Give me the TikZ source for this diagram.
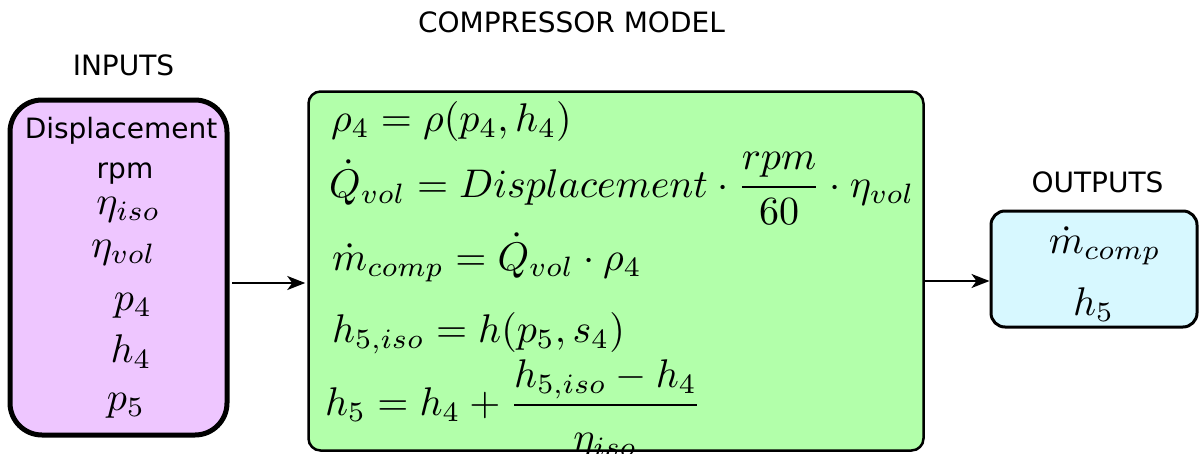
\documentclass[tikz,border=0pt]{standalone}
\usepackage{graphicx}
\usepackage{fontspec}
\setsansfont{DejaVu Sans}
\usetikzlibrary{arrows.meta}
\definecolor{inputcol}{RGB}{238,198,255}
\definecolor{modelcol}{RGB}{178,255,170}
\definecolor{outputcol}{RGB}{215,248,255}
\newcommand{\eqbox}[1]{\scalebox{4}{$#1$}}
\begin{document}
\begin{tikzpicture}[x=1pt, y=-1pt,
		box/.style={draw=black, rounded corners=#1},
		head/.style={font=\sffamily\fontsize{28}{34}\selectfont, inner sep=0pt, anchor=base},
		eq/.style={inner sep=0pt, anchor=base west},
		flow/.style={line width=2pt, -{Stealth[length=18pt,width=14pt,inset=5pt]}}]
			\useasboundingbox (0,0) rectangle (1203,453);
			\node[head] (title) at (571.5,32) {COMPRESSOR MODEL};
			\node[head] (intitle) at (123.5,75) {INPUTS};
			\node[head] (outtitle) at (1097.5,192) {OUTPUTS};
			\node[box=32pt, line width=5pt, fill=inputcol, minimum width=217pt, minimum height=335pt] (inputs) at (118.5,267.5) {};
			\node[box=12pt, line width=2.5pt, fill=modelcol, minimum width=615pt, minimum height=359pt] (model) at (616,271) {};
			\node[box=14pt, line width=3pt, fill=outputcol, minimum width=206pt, minimum height=116pt] (outputs) at (1094,269) {};
			\node[head] (disp) at (121,138) {Displacement};
			\node[head] (rpm) at (125,178) {rpm};
			\node[eq, anchor=base] (etaiso) at (128.5,214) {\eqbox{\eta_{iso}}};
			\node[eq, anchor=base] (etavol) at (123.5,257) {\eqbox{\eta_{vol}}};
			\node[eq, anchor=base] (pin) at (133,310) {\eqbox{p_4}};
			\node[eq, anchor=base] (hin) at (131,362) {\eqbox{h_4}};
			\node[eq, anchor=base] (pout) at (126,410) {\eqbox{p_5}};
			\node[eq] (eqrho) at (331,131) {\eqbox{\rho_4=\rho(p_4,h_4)}};
			\node[eq] (eqflow) at (329,197) {\eqbox{\displaystyle\dot{Q}_{vol}=Displacement\cdot\frac{rpm}{60}\cdot\eta_{vol}}};
			\node[eq] (eqmass) at (332,270) {\eqbox{\dot{m}_{comp}=\dot{Q}_{vol}\cdot\rho_4}};
			\node[eq] (eqiso) at (332,342) {\eqbox{h_{5,iso}=h(p_5,s_4)}};
			\node[eq] (eqenth) at (325,415) {\eqbox{\displaystyle h_5=h_4+\frac{h_{5,iso}-h_4}{\raisebox{-2pt}{$\eta_{iso}$}}}};
			\node[eq, anchor=base] (mout) at (1105,253) {\eqbox{\dot{m}_{comp}}};
			\node[eq, anchor=base] (hout) at (1093.5,315) {\eqbox{h_5}};
			\draw[flow, shorten <=2.5pt, shorten >=2pt] ([yshift=-15.5pt]inputs.east) -- ([yshift=-12pt]model.west);
			\draw[flow] ([yshift=-10pt]model.east) -- ([yshift=-12pt]outputs.west);
	\end{tikzpicture}
\end{document}
